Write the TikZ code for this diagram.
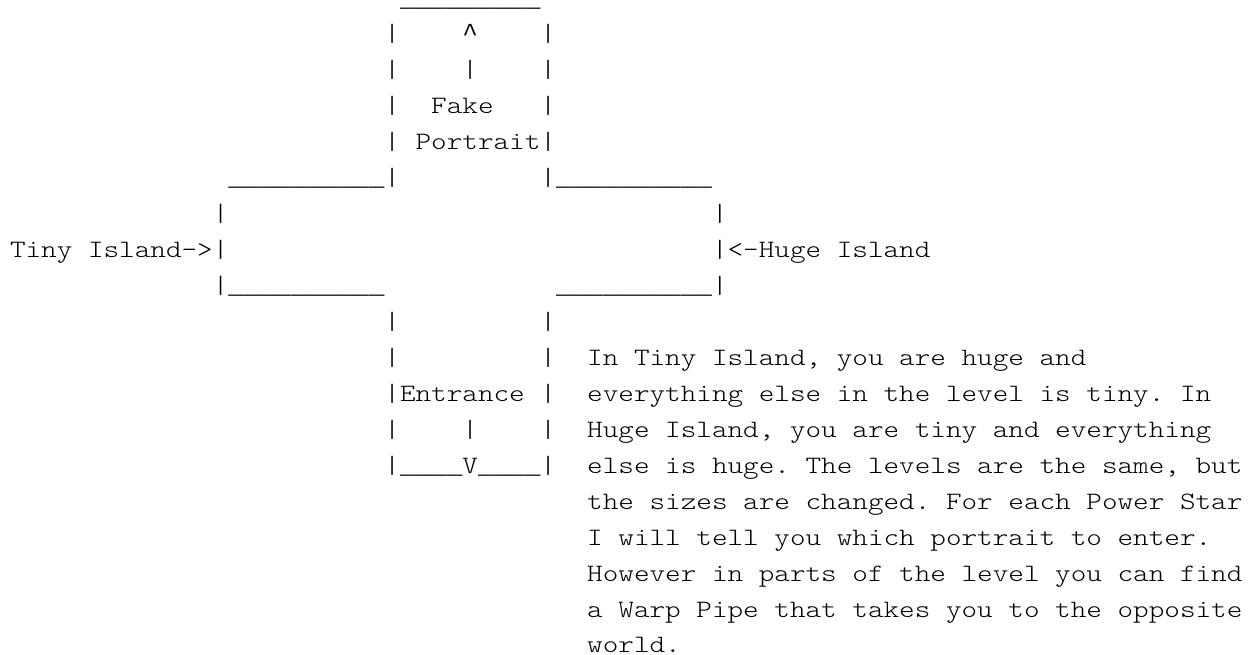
\documentclass[tikz,border=0pt]{standalone}
\usepackage{fontspec}
\newfontfamily\ascfont[FakeStretch=1.1886]{lmmonolt10-regular.otf}
\newfontfamily\uscfont{Liberation Mono}
\newcommand\us{{\uscfont\fontsize{19.5pt}{27pt}\selectfont\_}}
\newcommand\caret{{\uscfont\fontsize{19.5pt}{27pt}\selectfont\textasciicircum}}
\tikzset{
  asc/.style={anchor=base west, inner sep=0pt, outer sep=0pt, text=black,
    font=\ascfont\fontsize{18.75pt}{27pt}\selectfont\frenchspacing}
}
\begin{document}
\begin{tikzpicture}[x=0.75pt,y=-0.75pt]
\useasboundingbox (0,0) rectangle (1248,654);
% rows: baseline y = 5 + 36 r ; columns: x = 10 + 15.6 c
\node[asc] (r0) at (400,6) {\us\us\us\us\us\us\us\us\us};
\node[asc] (r1) at (384.4,41) {|~~~~\caret~~~~|};
\node[asc] (r2) at (384.4,77) {|~~~~|~~~~|};
\node[asc] (r3) at (384.4,113) {|~~Fake~~~|};
\node[asc] (r4) at (384.4,149) {|~Portrait|};
\node[asc] (r5) at (228.4,185) {\us\us\us\us\us\us\us\us\us\us|~~~~~~~~~|\us\us\us\us\us\us\us\us\us\us};
\node[asc] (r6) at (212.8,221) {|~~~~~~~~~~~~~~~~~~~~~~~~~~~~~~~|};
\node[asc] (tiny) at (10,257) {Tiny~Island->};
\node[asc] (r7) at (212.8,257) {|~~~~~~~~~~~~~~~~~~~~~~~~~~~~~~~|};
\node[asc] (huge) at (727.6,257) {<-Huge~Island};
\node[asc] (r8) at (212.8,293) {|\us\us\us\us\us\us\us\us\us\us~~~~~~~~~~~\us\us\us\us\us\us\us\us\us\us|};
\node[asc] (r9) at (384.4,329) {|~~~~~~~~~|};
\node[asc] (r10) at (384.4,365) {|~~~~~~~~~|};
\node[asc] (r11) at (384.4,401) {|Entrance~|};
\node[asc] (r12) at (384.4,437) {|~~~~|~~~~|};
\node[asc] (r13) at (384.4,473) {|\us\us\us\us V\us\us\us\us|};
\node[asc] (p1) at (587.2,365) {In Tiny Island, you are huge and};
\node[asc] (p2) at (587.2,401) {everything else in the level is tiny. In};
\node[asc] (p3) at (587.2,437) {Huge Island, you are tiny and everything};
\node[asc] (p4) at (587.2,473) {else is huge. The levels are the same, but};
\node[asc] (p5) at (587.2,509) {the sizes are changed. For each Power Star};
\node[asc] (p6) at (587.2,545) {I will tell you which portrait to enter.};
\node[asc] (p7) at (587.2,581) {However in parts of the level you can find};
\node[asc] (p8) at (587.2,617) {a Warp Pipe that takes you to the opposite};
\node[asc] (p9) at (587.2,652.5) {world.};
\end{tikzpicture}
\end{document}
